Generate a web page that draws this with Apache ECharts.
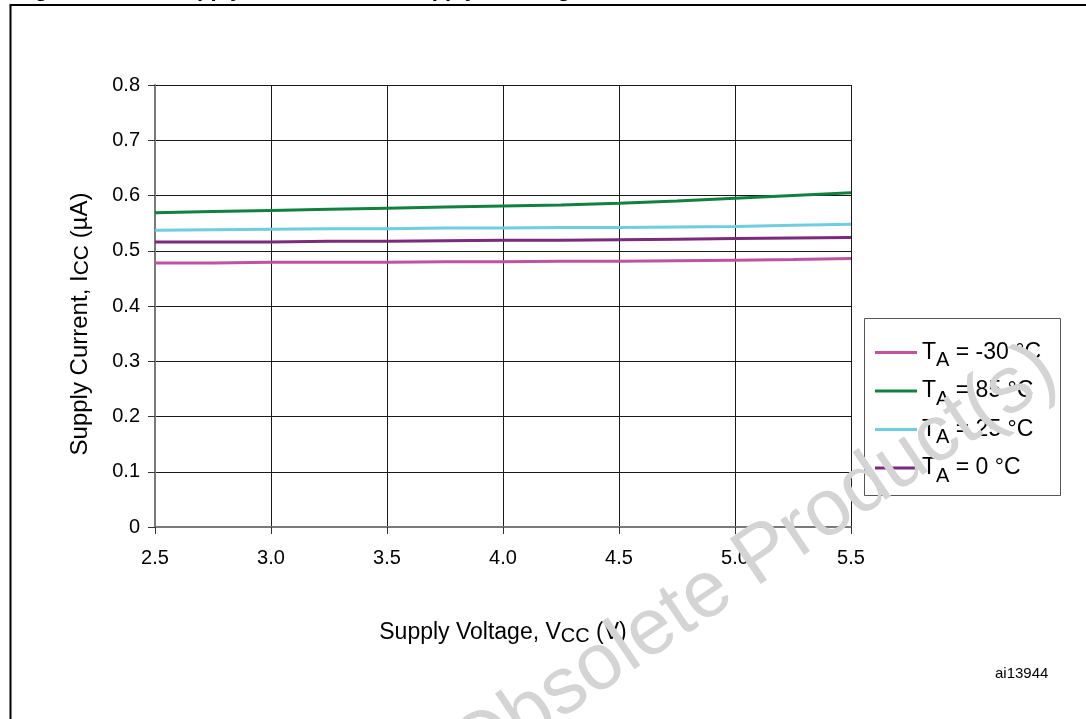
<!DOCTYPE html>
<html>
<head>
<meta charset="utf-8">
<script src="https://cdn.jsdelivr.net/npm/echarts@6/dist/echarts.min.js"></script>
<style>
  html, body { margin: 0; padding: 0; background: #ffffff; }
  #chart { width: 1086px; height: 719px; }
</style>
</head>
<body>
<div id="chart"></div>
<script>
// Supply voltage sweep (V)
const voltages = [2.5, 2.75, 3.0, 3.25, 3.5, 3.75, 4.0, 4.25, 4.5, 4.75, 5.0, 5.25, 5.5];

// Ambient temperatures, in legend order
const temps = ['-30', '85', '25', '0'];

// Supply current I_CC (µA) at each temperature
const iccM30 = [0.478, 0.478, 0.479, 0.479, 0.479, 0.480, 0.480, 0.481, 0.481, 0.482, 0.483, 0.484, 0.486];
const icc85  = [0.569, 0.571, 0.573, 0.575, 0.577, 0.579, 0.581, 0.583, 0.586, 0.590, 0.595, 0.600, 0.605];
const icc25  = [0.537, 0.538, 0.539, 0.540, 0.540, 0.541, 0.541, 0.542, 0.542, 0.543, 0.544, 0.546, 0.548];
const icc0   = [0.516, 0.516, 0.516, 0.517, 0.517, 0.518, 0.519, 0.519, 0.520, 0.521, 0.522, 0.523, 0.524];

const currents = [iccM30, icc85, icc25, icc0];
const colors = ['#c052a2', '#11813f', '#70cde0', '#7b2a7c'];

const FONT = '"Liberation Sans", Arial, Helvetica, sans-serif';

const seriesNames = temps.map(t => 'TA = ' + t + ' °C');

const chart = echarts.init(document.getElementById('chart'), null, { renderer: 'canvas' });

const option = {
  backgroundColor: '#ffffff',
  animation: false,
  grid: { left: 155, right: 235, top: 85, bottom: 192, containLabel: false },
  xAxis: {
    type: 'value',
    min: 2.5, max: 5.5, interval: 0.5,
    name: '{t|Supply Voltage, V}{s|CC}{t| (V)}',
    nameLocation: 'middle',
    nameGap: 93,
    nameTextStyle: {
      color: '#000', fontFamily: FONT, fontSize: 23,
      rich: {
        t: { fontSize: 23, fontFamily: FONT, color: '#000', lineHeight: 26, verticalAlign: 'middle' },
        s: { fontSize: 20, fontFamily: FONT, color: '#000', lineHeight: 12, verticalAlign: 'bottom' }
      }
    },
    axisLine: { show: true, onZero: false, lineStyle: { color: '#7a7a7a', width: 2 } },
    axisTick: { show: true, length: 7, lineStyle: { color: '#333', width: 1 } },
    axisLabel: {
      margin: 21, color: '#000', fontFamily: FONT, fontSize: 20,
      formatter: v => v.toFixed(1)
    },
    splitLine: { show: true, lineStyle: { color: '#1a1a1a', width: 1 } }
  },
  yAxis: {
    type: 'value',
    min: 0, max: 0.8, interval: 0.1,
    name: '{t|Supply Current, I}{s|CC}{t| (µA)}',
    nameLocation: 'middle',
    nameGap: 62,
    nameRotate: 90,
    nameTextStyle: {
      color: '#000', fontFamily: FONT, fontSize: 24,
      padding: [0, 36, 0, 0],
      rich: {
        t: { fontSize: 24, fontFamily: FONT, color: '#000', lineHeight: 26, verticalAlign: 'middle' },
        s: { fontSize: 21, fontFamily: FONT, color: '#000', lineHeight: 12, verticalAlign: 'bottom' }
      }
    },
    axisLine: { show: true, onZero: false, lineStyle: { color: '#7a7a7a', width: 2 } },
    axisTick: { show: true, length: 7, lineStyle: { color: '#333', width: 1 } },
    axisLabel: {
      margin: 15, color: '#000', fontFamily: FONT, fontSize: 20,
      formatter: v => (v === 0 ? '0' : v.toFixed(1))
    },
    splitLine: { show: true, lineStyle: { color: '#1a1a1a', width: 1 } }
  },
  legend: {
    orient: 'vertical',
    left: 875, top: 341,
    padding: 0,
    itemWidth: 42, itemHeight: 3, itemGap: 9,
    icon: 'rect',
    data: seriesNames,
    formatter: name => {
      const t = temps[seriesNames.indexOf(name)];
      return '{t|T}{s|A}{t| = ' + t + ' °C}';
    },
    textStyle: {
      color: '#000', fontFamily: FONT, fontSize: 23,
      rich: {
        t: { fontSize: 23, fontFamily: FONT, color: '#000', lineHeight: 36, verticalAlign: 'middle' },
        s: { fontSize: 20, fontFamily: FONT, color: '#000', lineHeight: 20, verticalAlign: 'bottom' }
      }
    }
  },
  series: currents.map((vals, i) => ({
    name: seriesNames[i],
    type: 'line',
    data: voltages.map((v, k) => [v, vals[k]]),
    showSymbol: false,
    symbol: 'none',
    smooth: false,
    color: colors[i],
    lineStyle: { color: colors[i], width: 3 },
    z: 3
  })),
  graphic: [
    // page frame (left and top rule)
    {
      type: 'polyline', z: 50,
      shape: { points: [[10.5, 719], [10.5, 5], [1086, 5]] },
      style: { stroke: '#000', lineWidth: 2, fill: null }
    },
    // figure caption running off the top edge
    { type: 'text', x: 15, y: -10.5, z: 50, style: { text: 'Figure 12.', fontSize: 22, fontWeight: 'bold', fontFamily: FONT, fill: '#000', align: 'left', verticalAlign: 'middle' } },
    { type: 'text', x: 169, y: -10.5, z: 50, style: { text: 'Supply current vs.', fontSize: 22, fontWeight: 'bold', fontFamily: FONT, fill: '#000', align: 'left', verticalAlign: 'middle' } },
    { type: 'text', x: 406, y: -10.5, z: 50, style: { text: 'supply', fontSize: 22, fontWeight: 'bold', fontFamily: FONT, fill: '#000', align: 'left', verticalAlign: 'middle' } },
    { type: 'text', x: 506, y: -10.5, z: 50, style: { text: 'voltage, V', fontSize: 22, fontWeight: 'bold', fontFamily: FONT, fill: '#000', align: 'left', verticalAlign: 'middle' } },
    // legend frame
    {
      type: 'rect', z: 1,
      shape: { x: 864.5, y: 318.5, width: 196, height: 177 },
      style: { stroke: '#555', lineWidth: 1, fill: '#fff' }
    },
    // drawing reference
    { type: 'text', x: 995, y: 674, z: 50, style: { text: 'ai13944', fontSize: 15, fontFamily: FONT, fill: '#000', align: 'left', verticalAlign: 'middle' } },
    // status watermark
    {
      type: 'text', x: 754, y: 562, z: 200, rotation: 34 * Math.PI / 180,
      style: { text: 'Obsolete Product(s)', fontSize: 80, fontFamily: FONT, fill: '#d4d4d4', align: 'center', verticalAlign: 'middle' }
    }
  ]
};

chart.setOption(option);
</script>
</body>
</html>
